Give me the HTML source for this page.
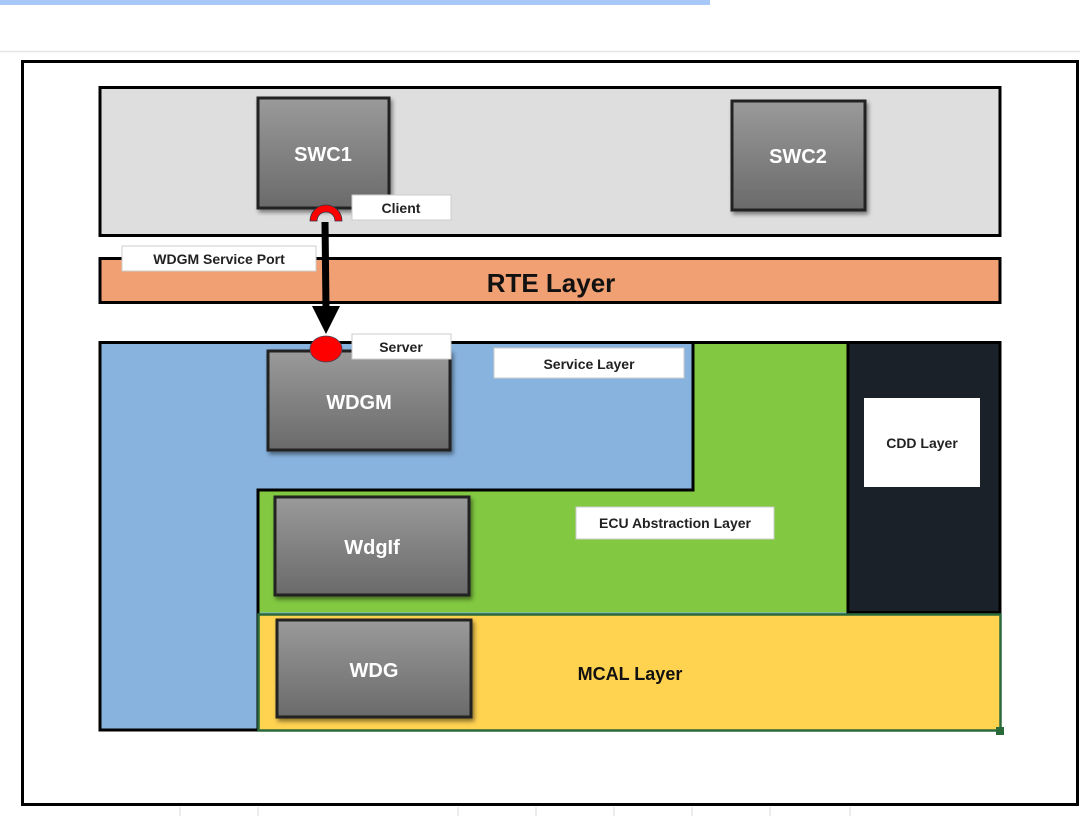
<!DOCTYPE html>
<html><head><meta charset="utf-8"><style>
html,body{margin:0;padding:0;background:#fff;}
svg{display:block;}
text{font-family:"Liberation Sans",sans-serif;font-weight:bold;}
</style></head><body>
<svg width="1080" height="816" viewBox="0 0 1080 816" xmlns="http://www.w3.org/2000/svg">
<defs>
<linearGradient id="g" x1="0" y1="0" x2="0" y2="1">
<stop offset="0" stop-color="#9a9a9a"/><stop offset="1" stop-color="#6a6a6a"/>
</linearGradient>
<filter id="sh" x="-10%" y="-10%" width="130%" height="130%"><feDropShadow dx="2" dy="3" stdDeviation="2" flood-opacity="0.45"/></filter>
</defs>
<rect x="0" y="0" width="710" height="5" fill="#a8c8f8"/>
<line x1="0" y1="51.5" x2="1080" y2="51.5" stroke="#e6e6e6" stroke-width="1.5"/>
<!-- grid ticks bottom -->
<g stroke="#d8d8d8" stroke-width="1">
<line x1="180" y1="807" x2="180" y2="816"/><line x1="258" y1="807" x2="258" y2="816"/>
<line x1="458" y1="807" x2="458" y2="816"/><line x1="536" y1="807" x2="536" y2="816"/>
<line x1="614" y1="807" x2="614" y2="816"/><line x1="692" y1="807" x2="692" y2="816"/>
<line x1="770" y1="807" x2="770" y2="816"/><line x1="850" y1="807" x2="850" y2="816"/>
</g>
<rect x="22.5" y="61.5" width="1055" height="743" fill="#fff" stroke="#000" stroke-width="3"/>
<!-- top app layer -->
<rect x="100" y="87.5" width="900" height="148" fill="#dedede" stroke="#000" stroke-width="3"/>
<!-- RTE -->
<rect x="100" y="258.5" width="900" height="44" fill="#f0a072" stroke="#000" stroke-width="3"/>
<text x="551" y="292" font-size="26" text-anchor="middle" fill="#111">RTE Layer</text>
<!-- bottom layers -->
<rect x="100" y="342.5" width="900" height="388" fill="#88b3df"/>
<rect x="258" y="342.5" width="590" height="270" fill="#82c941"/>
<polygon points="100,342.5 693,342.5 693,490 258,490 258,730 100,730" fill="#88b3df" stroke="#000" stroke-width="3"/>
<line x1="693" y1="342.5" x2="1000" y2="342.5" stroke="#000" stroke-width="3"/>
<line x1="258" y1="490" x2="258" y2="614" stroke="#000" stroke-width="3"/>
<rect x="848" y="342.5" width="152" height="270" fill="#1b2129" stroke="#000" stroke-width="3"/>
<rect x="864" y="398" width="116" height="89" fill="#fff"/>
<text x="922" y="448" font-size="14" text-anchor="middle" fill="#222">CDD Layer</text>
<rect x="258.5" y="614.5" width="742" height="116" fill="#ffd250" stroke="#2a6a3a" stroke-width="2.5"/>
<rect x="996" y="727" width="8" height="8" fill="#2a6a3a"/>
<text x="630" y="680" font-size="18" text-anchor="middle" fill="#111">MCAL Layer</text>
<!-- labels -->
<rect x="494" y="348" width="190" height="30" fill="#fff" stroke="#ccc"/>
<text x="589" y="369" font-size="14" text-anchor="middle" fill="#222">Service Layer</text>
<rect x="576" y="507" width="198" height="32" fill="#fff" stroke="#ccc"/>
<text x="675" y="528" font-size="14" text-anchor="middle" fill="#222">ECU Abstraction Layer</text>
<!-- component boxes -->
<g filter="url(#sh)" stroke="#222" stroke-width="3">
<rect x="258" y="98" width="131" height="110" fill="url(#g)"/>
<rect x="732" y="101" width="133" height="109" fill="url(#g)"/>
<rect x="268" y="351" width="182" height="99" fill="url(#g)"/>
<rect x="275" y="497" width="194" height="98" fill="url(#g)"/>
<rect x="277" y="620" width="194" height="97" fill="url(#g)"/>
</g>
<g fill="#fff" font-size="20" text-anchor="middle">
<text x="323" y="161">SWC1</text>
<text x="798" y="163">SWC2</text>
<text x="359" y="409">WDGM</text>
<text x="372" y="554">WdgIf</text>
<text x="374" y="677">WDG</text>
</g>
<!-- client / server -->
<rect x="352" y="195" width="99" height="25" fill="#fff" stroke="#ccc"/>
<text x="401" y="213" font-size="14" text-anchor="middle" fill="#222">Client</text>
<rect x="122" y="246" width="194" height="25" fill="#fff" stroke="#ccc"/>
<text x="219" y="264" font-size="14" text-anchor="middle" fill="#222">WDGM Service Port</text>
<rect x="352" y="334" width="99" height="25" fill="#fff" stroke="#ccc"/>
<text x="401" y="352" font-size="14" text-anchor="middle" fill="#222">Server</text>
<line x1="325" y1="222" x2="326" y2="308" stroke="#000" stroke-width="7"/>
<polygon points="312,306 340,306 326,334" fill="#000"/>
<path d="M310,221 A16,16 0 0 1 342,221 L335,221 A9,9 0 0 0 317,221 Z" fill="#f00" stroke="#334" stroke-width="0.8"/>
<ellipse cx="326" cy="349" rx="16" ry="13" fill="#f00" stroke="#445" stroke-width="0.8"/>
</svg>
</body></html>
